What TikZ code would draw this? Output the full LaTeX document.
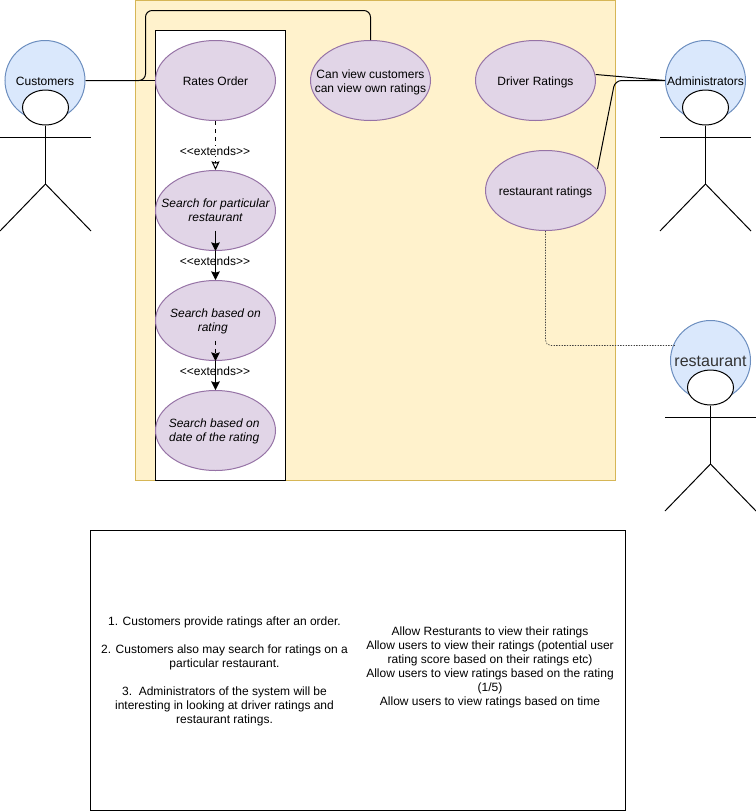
\documentclass[tikz,border=0pt]{standalone}
\usepackage{fontspec}
\setmainfont{Liberation Sans}
\usetikzlibrary{shapes.geometric,arrows.meta}
\definecolor{panelfill}{HTML}{FFF2CC}
\definecolor{panelline}{HTML}{D6B656}
\definecolor{casefill}{HTML}{E1D5E7}
\definecolor{caseline}{HTML}{9673A6}
\definecolor{actorfill}{HTML}{DAE8FC}
\definecolor{actorline}{HTML}{6C8EBF}
\tikzset{
  base/.style={line width=0.75pt,font=\fontsize{9}{10.5}\selectfont},
  usecase/.style={base,ellipse,draw=caseline,fill=casefill,minimum width=90pt,minimum height=60pt,inner sep=0pt},
  casetext/.style={base,align=center,inner sep=0pt,yshift=-0.6pt},
  caseital/.style={casetext,font=\fontsize{9}{10.5}\selectfont\itshape},
  actorball/.style={base,circle,draw=actorline,fill=actorfill,minimum size=60pt,inner sep=0pt},
  actortext/.style={base,inner sep=0pt,yshift=-0.6pt},
  head/.style={ellipse,draw=black,fill=white,line width=0.75pt,minimum width=34.5pt,minimum height=26.25pt,inner sep=0pt},
  limb/.style={line width=0.75pt,draw=black},
  conn/.style={line width=0.75pt,draw=black},
  tag/.style={base,fill=white,inner sep=0.5pt},
  solidtip/.style={-{Stealth[length=6.5pt,width=6.5pt,inset=1pt]}},
  opentip/.style={-{Stealth[open,length=6.5pt,width=6pt,inset=1pt]}},
  note/.style={base,align=center,inner sep=0pt}
}
\begin{document}
\begin{tikzpicture}[x=0.75pt,y=-0.75pt]
\useasboundingbox (0,0) rectangle (756,811);
% panels
\draw[line width=0.75pt,draw=panelline,fill=panelfill] (135.5,0.5) rectangle (615.5,480.5);
\draw[line width=0.75pt,draw=black,fill=white] (155.5,30.5) rectangle (285.5,480.5);
\draw[line width=0.75pt,draw=black] (90.5,530.5) rectangle (625.5,810.5);

% actors
\node[actorball,label={[actortext]center:Customers}] (customers) at (45,80.5) {};
\node[actorball,label={[actortext]center:Administrators}] (admins) at (705.5,80.5) {};
\node[actorball,label={[actortext,font=\fontsize{12}{14}\selectfont,text=black!80]center:restaurant}] (restaurant) at (710.5,360.5) {};

\node[head] (chead) at (45.5,107.5) {};
\coordinate (chip) at (45.5,184);
\coordinate (carmL) at (0,137);
\coordinate (carmR) at (91,137);
\coordinate (clegL) at (0,231);
\coordinate (clegR) at (91,231);
\draw[limb] (chead.south) -- (chip);
\draw[limb] (carmL) -- (carmR);
\draw[limb] (clegL) -- (chip) -- (clegR);

\node[head] (ahead) at (705.5,107.5) {};
\coordinate (ahip) at (705.5,184);
\coordinate (aarmL) at (660,137);
\coordinate (aarmR) at (751,137);
\coordinate (alegL) at (660,231);
\coordinate (alegR) at (751,231);
\draw[limb] (ahead.south) -- (ahip);
\draw[limb] (aarmL) -- (aarmR);
\draw[limb] (alegL) -- (ahip) -- (alegR);

\node[head] (rhead) at (710.5,387.5) {};
\coordinate (rhip) at (710.5,464);
\coordinate (rarmL) at (665,417);
\coordinate (rarmR) at (756,417);
\coordinate (rlegL) at (665,511);
\coordinate (rlegR) at (756,511);
\draw[limb] (rhead.south) -- (rhip);
\draw[limb] (rarmL) -- (rarmR);
\draw[limb] (rlegL) -- (rhip) -- (rlegR);

% use cases
\node[usecase,label={[casetext]center:Rates Order}] (rates) at (215.5,80.5) {};
\node[usecase,label={[caseital,yshift=0.75pt]center:Search for particular\\restaurant}] (particular) at (215.5,210.5) {};
\node[usecase,label={[caseital]center:Search based on\\rating\kern4pt}] (byrating) at (215.5,320.5) {};
\node[usecase,label={[caseital]center:Search based on\kern2pt\\date of the rating\kern2pt}] (bydate) at (215.5,430.5) {};
\node[usecase,label={[casetext,yshift=-0.75pt]center:Can view customers\\can view own ratings}] (canview) at (370.5,80.5) {};
\node[usecase,label={[casetext,yshift=-0.75pt]center:Driver Ratings}] (driver) at (535.5,80.5) {};
\node[usecase,label={[casetext,yshift=-0.75pt]center:restaurant ratings}] (restratings) at (545.5,190.5) {};

% associations
\coordinate (bendA) at (145.5,80.5);
\coordinate (bendB) at (145.5,10.5);
\coordinate (bendC) at (370.5,10.5);
\draw[conn] (customers.east) -- (rates.west);
\draw[conn,rounded corners=5pt] (customers.east) -- (bendA) -- (bendB) -- (bendC) -- (canview.north);

\coordinate (driverOut) at (595.7,74.5);
\coordinate (restOut) at (597.5,169);
\coordinate (adminBend) at (615,80.5);
\coordinate (adminIn) at (665,80.5);
\draw[conn] (driverOut) -- (adminIn);
\draw[conn,rounded corners=5pt] (restOut) -- (adminBend) -- (adminIn);

\coordinate (dotBend) at (545.5,345.5);
\coordinate (dotEnd) at (676,345.5);
\draw[line width=0.5pt,draw=black!75,dash pattern=on 1pt off 1pt,rounded corners=4pt] (restratings.south) -- (dotBend) -- (dotEnd);

% extends
\coordinate (partStart) at (215.5,230.5);
\coordinate (rateStart) at (215.5,340.5);
\draw[conn,dashed,opentip] (rates.south) -- (particular.north);
\node[tag] (ext1) at (215,151) {<{}<extends>{}>};
\node[tag] (ext2) at (215,261) {<{}<extends>{}>};
\node[tag] (ext3) at (215,371) {<{}<extends>{}>};
\draw[conn,solidtip] (partStart) -- (particular.south);
\draw[conn,solidtip] (particular.south) -- (byrating.north);
\draw[conn,dashed,solidtip] (rateStart) -- (byrating.south);
\draw[line width=0.4pt,draw=black,solidtip] (byrating.south) -- (bydate.north);

% notes
\node[note] (leftnote) at (224.5,671.3) {1. Customers provide ratings after an order.\\[10.5pt]
2. Customers also may search for ratings on a\\particular restaurant.\\[10.5pt]
3.\ \ Administrators of the system will be\\interesting in looking at driver ratings and\\restaurant ratings.};
\node[note] (rightnote) at (490,667.3) {Allow Resturants to view their ratings\\
Allow users to view their ratings (potential user\\rating score based on their ratings etc)\\
Allow users to view ratings based on the rating\\(1/5)\\
Allow users to view ratings based on time};
\end{tikzpicture}
\end{document}
